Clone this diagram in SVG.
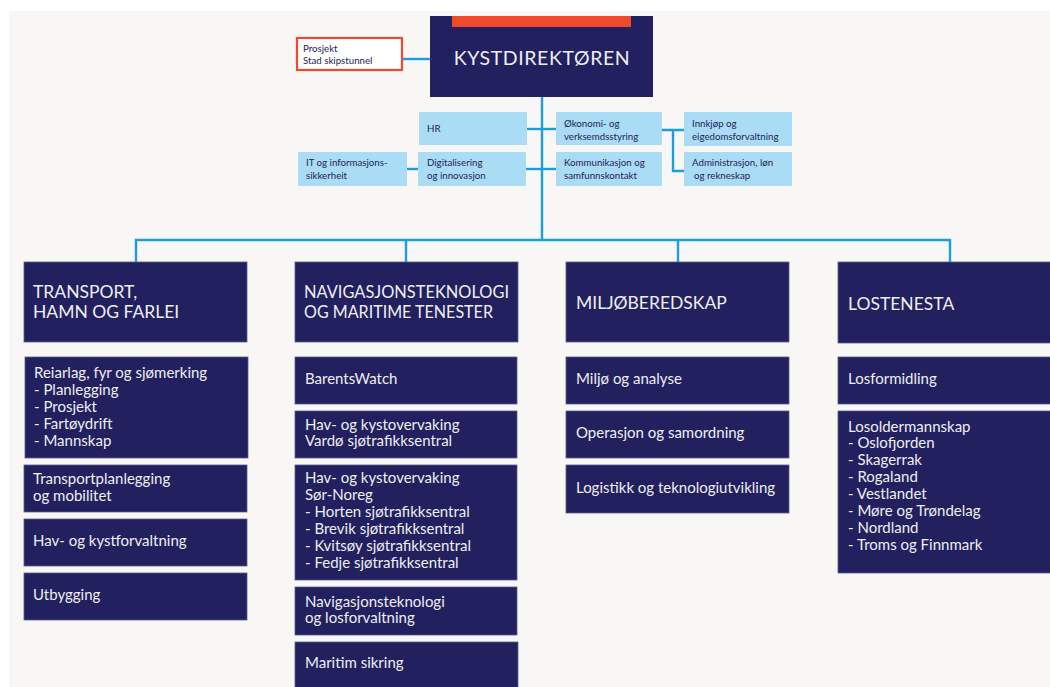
<svg xmlns="http://www.w3.org/2000/svg" width="1050" height="687" viewBox="0 0 1050 687">
  <style>
    .navy { fill: #22205e; stroke: #5d5b91; stroke-width: 0.8; }
    .light { fill: #aadcf6; }
    .hdr { font-family: Lato, "Open Sans", sans-serif; font-size: 17.5px; fill: #eeeef5; }
    .sub { font-family: Lato, "Open Sans", sans-serif; font-size: 15px; fill: #eeeef5; }
    .sm { font-family: Lato, "Open Sans", sans-serif; font-size: 9.7px; fill: #23235a; }
    .wire { stroke: #1c9ed8; stroke-width: 2.4; fill: none; }
  </style>
  <rect width="1050" height="687" fill="#ffffff"/>
  <rect x="9" y="11" width="1041" height="676" fill="#f8f7f6"/>

  <!-- connectors -->
  <g id="connectors" class="wire">
    <path d="M403 59 H430"/>
    <path d="M542 97 V240"/>
    <path d="M527 129 H556"/>
    <path d="M526 169 H556"/>
    <path d="M407 169 H418"/>
    <path d="M662 130 H684 M673 130 V171 H684"/>
    <path d="M136 262 V240 H950 V262"/>
    <path d="M406 240 V262"/>
    <path d="M678 240 V262"/>
  </g>

  <!-- top -->
  <g id="kystdirektoren">
    <rect x="430" y="16" width="223" height="81" fill="#22205e"/>
    <rect x="452" y="16" width="179" height="11" fill="#ef4a2c"/>
    <text x="542" y="65" text-anchor="middle" font-family="Lato, 'Open Sans', sans-serif" font-size="19.5" fill="#eeeef5" letter-spacing="0.6">KYSTDIREKTØREN</text>
  </g>
  <g id="prosjekt">
    <rect x="297" y="38" width="105" height="32" fill="#ffffff" stroke="#ef4a2c" stroke-width="2.2"/>
    <text class="sm" x="303" y="52">Prosjekt</text>
    <text class="sm" x="303" y="64">Stad skipstunnel</text>
  </g>

  <!-- staff units -->
  <g id="hr"><rect class="light" x="419" y="112" width="108" height="33"/><text class="sm" x="427" y="132">HR</text></g>
  <g id="okonomi"><rect class="light" x="556" y="112" width="106" height="33"/><text class="sm" x="564" y="127">Økonomi- og</text><text class="sm" x="564" y="140">verksemdsstyring</text></g>
  <g id="innkjop"><rect class="light" x="684" y="112" width="108" height="34"/><text class="sm" x="692" y="127">Innkjøp og</text><text class="sm" x="692" y="140">eigedomsforvaltning</text></g>
  <g id="it"><rect class="light" x="298" y="152" width="109" height="34"/><text class="sm" x="306" y="166">IT og informasjons-</text><text class="sm" x="306" y="179">sikkerheit</text></g>
  <g id="digitalisering"><rect class="light" x="418" y="152" width="108" height="34"/><text class="sm" x="427" y="166">Digitalisering</text><text class="sm" x="427" y="179">og innovasjon</text></g>
  <g id="kommunikasjon"><rect class="light" x="556" y="152" width="106" height="34"/><text class="sm" x="564" y="166">Kommunikasjon og</text><text class="sm" x="564" y="179">samfunnskontakt</text></g>
  <g id="administrasjon"><rect class="light" x="684" y="152" width="108" height="34"/><text class="sm" x="692" y="166">Administrasjon, løn</text><text class="sm" x="694" y="179">og rekneskap</text></g>

  <!-- column 1 -->
  <g id="transport">
    <rect class="navy" x="24" y="262" width="223" height="80"/>
    <text class="hdr" x="33" y="298">TRANSPORT,</text>
    <text class="hdr" x="33" y="318">HAMN OG FARLEI</text>
  </g>
  <g id="reiarlag">
    <rect class="navy" x="25" y="357" width="223" height="101"/>
    <text class="sub" x="34" y="378">Reiarlag, fyr og sjømerking</text>
    <text class="sub" x="34" y="395">- Planlegging</text>
    <text class="sub" x="34" y="412">- Prosjekt</text>
    <text class="sub" x="34" y="429">- Fartøydrift</text>
    <text class="sub" x="34" y="446">- Mannskap</text>
  </g>
  <g id="transportplanlegging">
    <rect class="navy" x="24" y="465" width="223" height="47"/>
    <text class="sub" x="33" y="484">Transportplanlegging</text>
    <text class="sub" x="33" y="501">og mobilitet</text>
  </g>
  <g id="havforvaltning">
    <rect class="navy" x="24" y="519" width="223" height="47"/>
    <text class="sub" x="33" y="546">Hav- og kystforvaltning</text>
  </g>
  <g id="utbygging">
    <rect class="navy" x="24" y="573" width="223" height="47"/>
    <text class="sub" x="33" y="600">Utbygging</text>
  </g>

  <!-- column 2 -->
  <g id="navigasjon">
    <rect class="navy" x="295" y="262" width="223" height="80"/>
    <text class="hdr" x="304" y="298" textLength="205" lengthAdjust="spacingAndGlyphs">NAVIGASJONSTEKNOLOGI</text>
    <text class="hdr" x="304" y="318" textLength="189" lengthAdjust="spacingAndGlyphs">OG MARITIME TENESTER</text>
  </g>
  <g id="barentswatch">
    <rect class="navy" x="295" y="357" width="222" height="47"/>
    <text class="sub" x="305" y="384">BarentsWatch</text>
  </g>
  <g id="vardo">
    <rect class="navy" x="295" y="411" width="222" height="47"/>
    <text class="sub" x="305" y="430">Hav- og kystovervaking</text>
    <text class="sub" x="305" y="446">Vardø sjøtrafikksentral</text>
  </g>
  <g id="sornoreg">
    <rect class="navy" x="295" y="465" width="222" height="115"/>
    <text class="sub" x="305" y="483">Hav- og kystovervaking</text>
    <text class="sub" x="305" y="500">Sør-Noreg</text>
    <text class="sub" x="305" y="517">- Horten sjøtrafikksentral</text>
    <text class="sub" x="305" y="534">- Brevik sjøtrafikksentral</text>
    <text class="sub" x="305" y="551">- Kvitsøy sjøtrafikksentral</text>
    <text class="sub" x="305" y="568">- Fedje sjøtrafikksentral</text>
  </g>
  <g id="losforvaltning">
    <rect class="navy" x="295" y="587" width="222" height="48"/>
    <text class="sub" x="305" y="607">Navigasjonsteknologi</text>
    <text class="sub" x="305" y="623">og losforvaltning</text>
  </g>
  <g id="maritimsikring">
    <rect class="navy" x="295" y="642" width="223" height="50"/>
    <text class="sub" x="305" y="668">Maritim sikring</text>
  </g>

  <!-- column 3 -->
  <g id="miljoberedskap">
    <rect class="navy" x="566" y="262" width="223" height="80"/>
    <text class="hdr" x="576" y="309">MILJØBEREDSKAP</text>
  </g>
  <g id="miljo">
    <rect class="navy" x="566" y="357" width="223" height="47"/>
    <text class="sub" x="576" y="384">Miljø og analyse</text>
  </g>
  <g id="operasjon">
    <rect class="navy" x="566" y="411" width="223" height="47"/>
    <text class="sub" x="576" y="438">Operasjon og samordning</text>
  </g>
  <g id="logistikk">
    <rect class="navy" x="566" y="465" width="223" height="48"/>
    <text class="sub" x="576" y="493">Logistikk og teknologiutvikling</text>
  </g>

  <!-- column 4 -->
  <g id="lostenesta">
    <rect class="navy" x="838" y="262" width="220" height="81"/>
    <text class="hdr" x="848" y="310">LOSTENESTA</text>
  </g>
  <g id="losformidling">
    <rect class="navy" x="838" y="357" width="220" height="47"/>
    <text class="sub" x="848" y="384">Losformidling</text>
  </g>
  <g id="losoldermannskap">
    <rect class="navy" x="838" y="411" width="220" height="162"/>
    <text class="sub" x="848" y="432">Losoldermannskap</text>
    <text class="sub" x="848" y="448">- Oslofjorden</text>
    <text class="sub" x="848" y="465">- Skagerrak</text>
    <text class="sub" x="848" y="482">- Rogaland</text>
    <text class="sub" x="848" y="499">- Vestlandet</text>
    <text class="sub" x="848" y="516">- Møre og Trøndelag</text>
    <text class="sub" x="848" y="533">- Nordland</text>
    <text class="sub" x="848" y="550">- Troms og Finnmark</text>
  </g>
</svg>
